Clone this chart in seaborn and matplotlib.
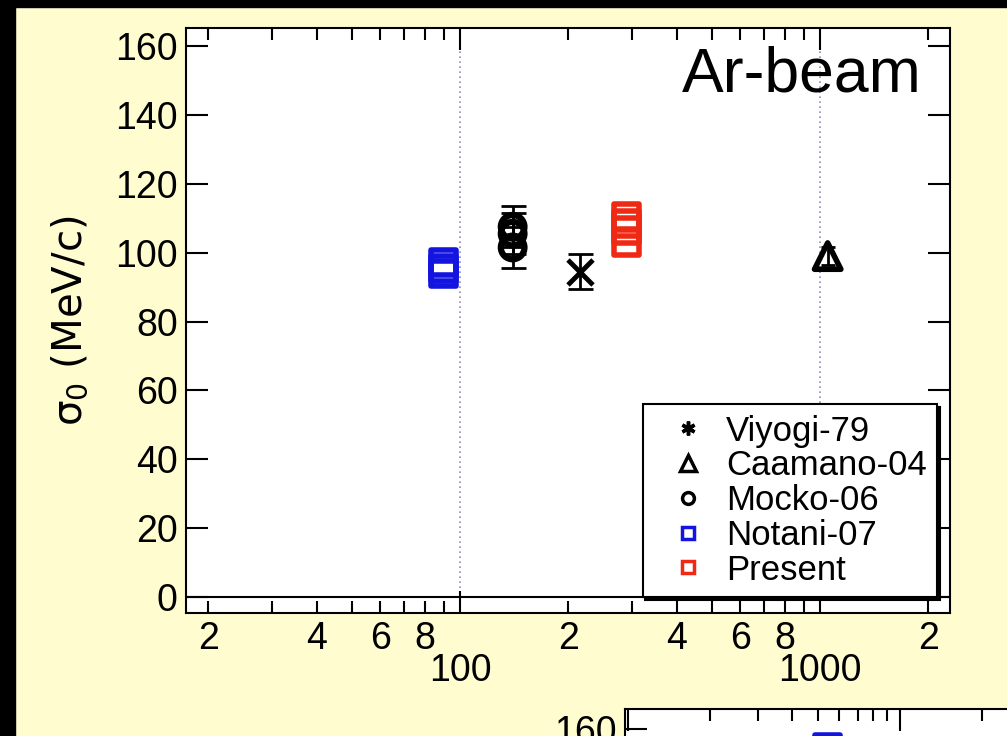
import numpy as np
import pandas as pd
import matplotlib
matplotlib.use("Agg")
import matplotlib.pyplot as plt
import seaborn as sns
from matplotlib.lines import Line2D
from matplotlib.patches import Rectangle
from matplotlib.ticker import FixedLocator, FixedFormatter, LogLocator, FuncFormatter, NullFormatter

# ---------------- data ----------------
viyogi_energy = [215]
viyogi_sigma = [94.5]
viyogi_err = [5.2]

caamano_energy = [1050]
caamano_sigma = [99.0]
caamano_err = [2.5]

mocko_energy = [140, 140, 140]
mocko_sigma = [107.5, 105.5, 101.5]
mocko_err = [6.0, 6.0, 6.0]

notani_energy = [90, 90, 90]
notani_sigma = [97.0, 95.5, 94.0]

present_energy = [290, 290, 290, 290]
present_sigma = [110.5, 108.5, 106.5, 103.0]

series_names = ["Viyogi-79", "Caamano-04", "Mocko-06", "Notani-07", "Present"]
panel_label = "Ar-beam"
y_label = r"$\sigma_0$ (MeV/c)"

y_ticks = [0, 20, 40, 60, 80, 100, 120, 140, 160]
x_major_ticks = [100, 1000]
x_major_labels = ["100", "1000"]
x_minor_labeled = [20, 40, 60, 80, 200, 400, 600, 800, 2000]
x_minor_labels = ["2", "4", "6", "8", "2", "4", "6", "8", "2"]

# fragment of the next panel (cut off at the bottom of the slide)
lower_energy = [54]
lower_sigma = [154.5]
lower_y_ticks = [160]

BLUE = "#1414e0"
RED = "#ee2a14"
BG = "#FFFDD0"

# ---------------- style ----------------
sns.set_theme(style="white")
plt.rcParams["font.family"] = ["Liberation Sans", "DejaVu Sans"]
plt.rcParams["mathtext.default"] = "regular"
plt.rcParams["axes.edgecolor"] = "black"
plt.rcParams["axes.linewidth"] = 1.5
plt.rcParams["text.color"] = "black"
plt.rcParams["axes.labelcolor"] = "black"
plt.rcParams["xtick.color"] = "black"
plt.rcParams["ytick.color"] = "black"
plt.rcParams["xtick.labelcolor"] = "black"
plt.rcParams["ytick.labelcolor"] = "black"

W, H = 1007, 736
fig = plt.figure(figsize=(W / 100, H / 100), dpi=100)
fig.patch.set_facecolor(BG)

# black slide borders
fig.patches.append(Rectangle((0, 0), 15 / W, 1, transform=fig.transFigure,
                             color="black", zorder=0))
fig.patches.append(Rectangle((0, 1 - 7 / H), 1, 7 / H, transform=fig.transFigure,
                             color="black", zorder=0))

# ---------------- main panel ----------------
L, R, T, B = 186, 950, 28, 613
ax = fig.add_axes([L / W, (H - B) / H, (R - L) / W, (B - T) / H])
ax.set_facecolor("white")
ax.set_xscale("log")
ax.set_xlim(17.33, 2296)
ax.set_ylim(-4.6, 165.2)

# gridlines at decades, zero line
for xv in x_major_ticks:
    ax.axvline(xv, color="#8c8cb4", lw=1.2, ls=(0, (1, 2)), zorder=0.5)
ax.axhline(0, color="black", lw=1.5, zorder=0.6)

# error bars
eb = dict(fmt="none", ecolor="black", elinewidth=2, capsize=9, capthick=2, zorder=2)
ax.errorbar(mocko_energy, mocko_sigma, yerr=mocko_err, **eb)
ax.errorbar(viyogi_energy, viyogi_sigma, yerr=viyogi_err, **eb)
ax.errorbar(caamano_energy, caamano_sigma, yerr=caamano_err,
            fmt="none", ecolor="black", elinewidth=2, capsize=5, capthick=2, zorder=2)

# markers
sns.scatterplot(x=notani_energy, y=notani_sigma, ax=ax, marker="s", s=18 ** 2,
                color=BLUE, facecolor="none", edgecolor=BLUE, linewidth=4,
                legend=False, zorder=3)
sns.scatterplot(x=present_energy, y=present_sigma, ax=ax, marker="s", s=18 ** 2,
                color=RED, facecolor="none", edgecolor=RED, linewidth=4,
                legend=False, zorder=3)
sns.scatterplot(x=mocko_energy, y=mocko_sigma, ax=ax, marker="o", s=17 ** 2,
                color="black", facecolor="none", edgecolor="black", linewidth=4.5,
                legend=False, zorder=3)
sns.scatterplot(x=viyogi_energy, y=viyogi_sigma, ax=ax, marker="x", s=18 ** 2,
                color="black", linewidth=3.5, legend=False, zorder=3)
sns.scatterplot(x=caamano_energy, y=caamano_sigma, ax=ax, marker="^", s=19 ** 2,
                color="black", facecolor="none", edgecolor="black", linewidth=4,
                legend=False, zorder=3)

# ticks
ax.xaxis.set_major_locator(FixedLocator(x_major_ticks))
ax.xaxis.set_major_formatter(FixedFormatter(x_major_labels))
ax.xaxis.set_minor_locator(LogLocator(base=10, subs=np.arange(2, 10), numticks=20))
minor_map = {round(v): s for v, s in zip(x_minor_labeled, x_minor_labels)}
ax.xaxis.set_minor_formatter(FuncFormatter(lambda v, p: minor_map.get(int(round(v)), "")))
ax.yaxis.set_major_locator(FixedLocator(y_ticks))
ax.yaxis.set_minor_formatter(NullFormatter())

ax.tick_params(axis="x", which="major", direction="in", length=16, width=1.5,
               top=True, bottom=True, labelsize=27, pad=29)
ax.tick_params(axis="x", which="minor", direction="in", length=8.5, width=1.5,
               top=True, bottom=True, labelsize=27, pad=5.5)
ax.tick_params(axis="y", which="major", direction="in", length=16, width=1.5,
               left=True, right=True, labelsize=27, pad=6)
ax.tick_params(axis="y", which="minor", left=False, right=False)
for sp in ax.spines.values():
    sp.set_linewidth(1.5)
    sp.set_color("black")

ax.set_ylabel(y_label, fontsize=29, family=["DejaVu Sans"], color="black")
ax.yaxis.set_label_coords((90 - L) / (R - L), 0.5)

ax.text((922 - L) / (R - L), (B - 92) / (B - T), panel_label, transform=ax.transAxes,
        ha="right", va="baseline", fontsize=45, color="black", zorder=4)

# legend
handles = [
    Line2D([], [], ls="none", marker=(6, 2, 0), ms=10, mew=2.5, color="black"),
    Line2D([], [], ls="none", marker="^", ms=12, mew=2.5, mfc="white", mec="black"),
    Line2D([], [], ls="none", marker="o", ms=8.5, mew=2.5, mfc="white", mec="black"),
    Line2D([], [], ls="none", marker="s", ms=8.5, mew=2.5, mfc="white", mec=BLUE),
    Line2D([], [], ls="none", marker="s", ms=8.5, mew=2.5, mfc="white", mec=RED),
]
leg = ax.legend(handles, series_names, loc="lower right",
                bbox_to_anchor=((937 - L) / (R - L), (B - 597) / (B - T)),
                borderaxespad=0, fontsize=25, frameon=True, fancybox=False,
                edgecolor="black", framealpha=1, facecolor="white",
                shadow={"color": "black", "alpha": 1},
                borderpad=0.3, handlelength=2.0, handletextpad=0.1,
                labelspacing=0.05)
leg.get_frame().set_linewidth(1.5)
leg.set_zorder(5)

# ---------------- fragment of next panel ----------------
L2, T2 = 625, 709
ax2 = fig.add_axes([L2 / W, (H - (T2 + 587)) / H, 764 / W, 587 / H])
ax2.set_facecolor("white")
ax2.set_xscale("log")
ax2.set_xlim(9.75, 10 ** 3.8)
ax2.set_ylim(-4.6, 165.8)
sns.scatterplot(x=lower_energy, y=lower_sigma, ax=ax2, marker="s", s=18 ** 2,
                color=BLUE, facecolor="none", edgecolor=BLUE, linewidth=4,
                legend=False, zorder=3)
ax2.xaxis.set_major_locator(LogLocator(base=10, numticks=10))
ax2.xaxis.set_minor_locator(LogLocator(base=10, subs=np.arange(2, 10), numticks=20))
ax2.xaxis.set_minor_formatter(NullFormatter())
ax2.yaxis.set_major_locator(FixedLocator(lower_y_ticks))
ax2.tick_params(axis="x", which="major", direction="in", length=16, width=1.5,
                top=True, bottom=False, labelbottom=False)
ax2.tick_params(axis="x", which="minor", direction="in", length=8.5, width=1.5,
                top=True, bottom=False)
ax2.tick_params(axis="y", which="major", direction="in", length=16, width=1.5,
                left=True, labelsize=27, pad=6)
for sp in ax2.spines.values():
    sp.set_linewidth(1.5)
    sp.set_color("black")

fig.savefig("out.png", dpi=100)
